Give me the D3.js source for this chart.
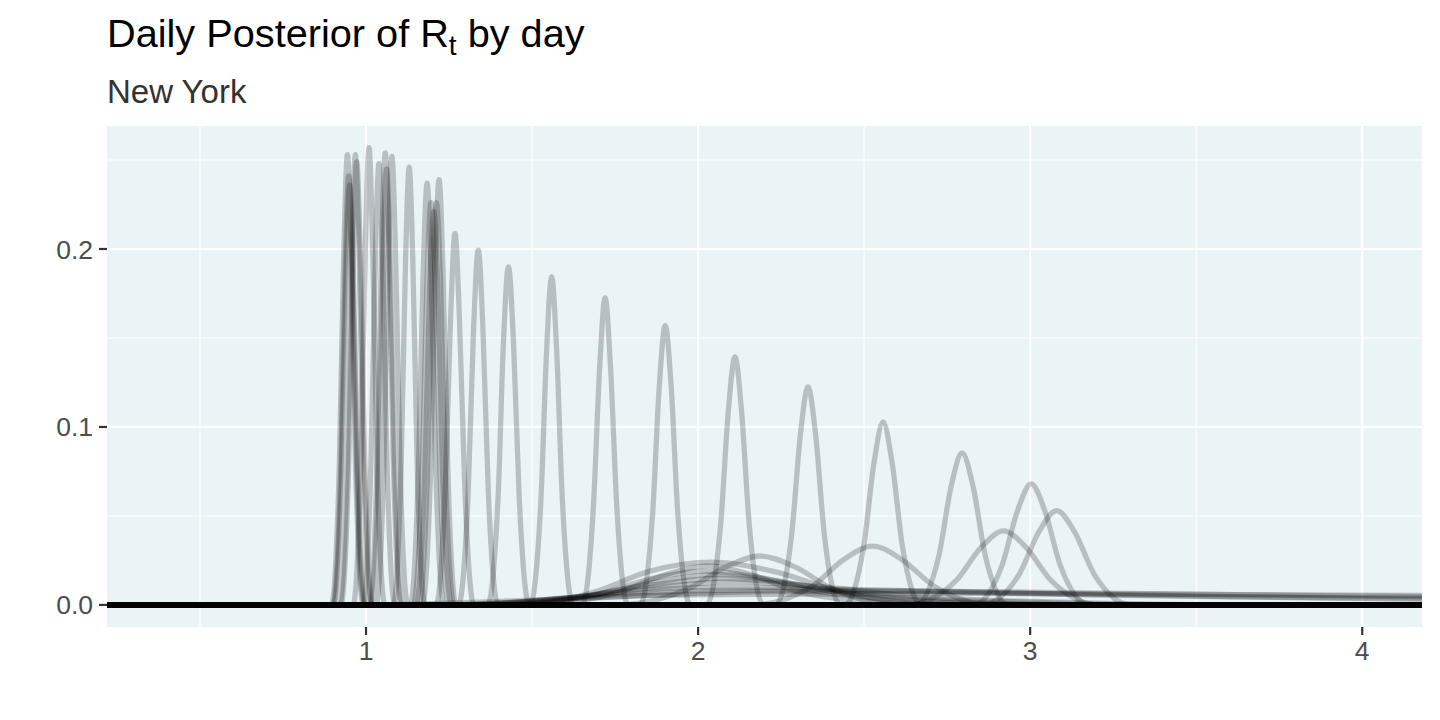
<!DOCTYPE html>
<html>
<head>
<meta charset="utf-8">
<script src="https://cdn.jsdelivr.net/npm/d3@7"></script>
<style>
  html, body { margin: 0; padding: 0; background: #ffffff; }
  svg { display: block; font-family: "Liberation Sans", Arial, sans-serif; }
</style>
</head>
<body>
<svg id="chart" width="1440" height="720"></svg>
<script>
// ---------------- DATA ----------------
const titleMain = "Daily Posterior of R";
const titleSub = "t";
const titleTail = " by day";
const subtitle = "New York";

const xTicks = [1, 2, 3, 4];
const xMinor = [0.5, 1.5, 2.5, 3.5];
const yTicks = [0.0, 0.1, 0.2];
const yMinor = [0.05, 0.15, 0.25];
const yTickLabels = ["0.0", "0.1", "0.2"];
const xTickLabels = ["1", "2", "3", "4"];

// R range of the posterior grid (extends past the visible window)
const rLimits = [0.0, 4.5];

// Narrow posteriors clustered near R = 1 : [R, density] knots
const clusterCurves = [
  [[0.896,0],[0.920,0.082],[0.933,0.198],[0.944,0.253],[0.955,0.198],[0.968,0.082],[0.992,0]],
  [[0.900,0],[0.924,0.078],[0.937,0.189],[0.948,0.241],[0.959,0.189],[0.972,0.078],[0.996,0]],
  [[0.903,0],[0.927,0.077],[0.940,0.185],[0.951,0.236],[0.962,0.185],[0.975,0.077],[0.999,0]],
  [[0.920,0],[0.944,0.082],[0.957,0.198],[0.968,0.253],[0.979,0.198],[0.992,0.082],[1.016,0]],
  [[0.924,0],[0.948,0.081],[0.961,0.195],[0.972,0.249],[0.983,0.195],[0.996,0.081],[1.020,0]],
  [[0.961,0],[0.985,0.084],[0.998,0.201],[1.009,0.257],[1.020,0.201],[1.033,0.084],[1.057,0]],
  [[0.991,0],[1.015,0.081],[1.028,0.194],[1.039,0.248],[1.050,0.194],[1.063,0.081],[1.087,0]],
  [[1.010,0],[1.034,0.083],[1.047,0.199],[1.058,0.254],[1.069,0.199],[1.082,0.083],[1.106,0]],
  [[1.014,0],[1.038,0.080],[1.051,0.192],[1.062,0.245],[1.073,0.192],[1.086,0.080],[1.110,0]],
  [[1.030,0],[1.054,0.082],[1.067,0.197],[1.078,0.252],[1.089,0.197],[1.102,0.082],[1.126,0]],
  [[1.082,0],[1.106,0.080],[1.119,0.193],[1.130,0.246],[1.141,0.193],[1.154,0.080],[1.178,0]],
  [[1.133,0],[1.158,0.077],[1.172,0.186],[1.184,0.237],[1.196,0.186],[1.210,0.077],[1.235,0]],
  [[1.142,0],[1.169,0.074],[1.183,0.177],[1.196,0.226],[1.209,0.177],[1.223,0.074],[1.250,0]],
  [[1.150,0],[1.177,0.072],[1.191,0.173],[1.204,0.221],[1.217,0.173],[1.231,0.072],[1.258,0]],
  [[1.158,0],[1.185,0.074],[1.199,0.177],[1.212,0.226],[1.225,0.177],[1.239,0.074],[1.266,0]],
  [[1.169,0],[1.195,0.078],[1.208,0.187],[1.220,0.239],[1.232,0.187],[1.246,0.078],[1.271,0]]
];

// Single posteriors stepping from R ~ 3.1 down to R ~ 1.27
const stepCurves = [
  [[2.854,0],[2.967,0.0172],[3.027,0.0413],[3.080,0.053],[3.133,0.0413],[3.193,0.0172],[3.306,0]],
  [[2.827,0],[2.915,0.0221],[2.962,0.053],[3.003,0.068],[3.044,0.053],[3.091,0.0221],[3.179,0]],
  [[2.655,0],[2.725,0.0276],[2.762,0.0666],[2.795,0.0854],[2.828,0.0666],[2.865,0.0276],[2.935,0]],
  [[2.441,0],[2.499,0.0334],[2.530,0.0802],[2.557,0.1028],[2.584,0.0802],[2.615,0.0334],[2.673,0]],
  [[2.233,0],[2.282,0.0398],[2.308,0.0955],[2.331,0.1225],[2.354,0.0955],[2.380,0.0398],[2.429,0]],
  [[2.025,0],[2.068,0.0453],[2.091,0.1087],[2.111,0.1393],[2.131,0.1087],[2.154,0.0453],[2.197,0]],
  [[1.825,0],[1.863,0.051],[1.883,0.1225],[1.901,0.157],[1.919,0.1225],[1.939,0.051],[1.977,0]],
  [[1.651,0],[1.685,0.0561],[1.704,0.1347],[1.720,0.1727],[1.736,0.1347],[1.755,0.0561],[1.789,0]],
  [[1.494,0],[1.527,0.060],[1.544,0.1438],[1.559,0.1844],[1.574,0.1438],[1.591,0.060],[1.624,0]],
  [[1.366,0],[1.398,0.0618],[1.414,0.1482],[1.429,0.190],[1.444,0.1482],[1.461,0.0618],[1.492,0]],
  [[1.278,0],[1.308,0.0648],[1.324,0.1555],[1.338,0.1994],[1.352,0.1555],[1.368,0.0648],[1.398,0]],
  [[1.211,0],[1.239,0.0679],[1.255,0.1629],[1.268,0.2088],[1.281,0.1629],[1.297,0.0679],[1.325,0]]
];

// Broad early posteriors
const broadCurves = [
  [[2.630,0],[2.776,0.0135],[2.853,0.0325],[2.920,0.0416],[2.987,0.0325],[3.064,0.0135],[3.210,0]],
  [[2.160,0],[2.345,0.0107],[2.440,0.0257],[2.527,0.033],[2.612,0.0257],[2.710,0.0107],[2.890,0]],
  [[1.750,0],[1.970,0.009],[2.085,0.0215],[2.187,0.0275],[2.290,0.0215],[2.405,0.009],[2.620,0]],
  [[1.450,0],[1.700,0.008],[1.850,0.0187],[2.040,0.024],[2.230,0.0187],[2.420,0.008],[2.750,0]],
  [[1.500,0],[1.760,0.007],[1.900,0.017],[2.030,0.022],[2.160,0.017],[2.300,0.0075],[2.600,0.001],[2.900,0]],
  [[1.400,0],[1.700,0.006],[1.860,0.0148],[2.020,0.019],[2.200,0.015],[2.380,0.007],[2.800,0.001],[3.200,0]],
  [[1.350,0],[1.680,0.0055],[1.880,0.013],[2.050,0.017],[2.240,0.0135],[2.450,0.006],[2.900,0.001],[3.300,0]],
  [[1.300,0],[1.650,0.005],[1.880,0.0117],[2.070,0.015],[2.280,0.012],[2.550,0.005],[3.000,0.0015],[3.500,0]],
  [[1.250,0],[1.620,0.0042],[1.880,0.010],[2.100,0.013],[2.350,0.0105],[2.650,0.0048],[3.100,0.0015],[3.600,0]]
];

// Very flat, long-tailed first-day posteriors
const flatCurves = [
  [[1.300,0],[1.600,0.004],[1.900,0.009],[2.100,0.010],[2.400,0.009],[2.900,0.007],[3.500,0.005],[4.000,0.0035],[4.500,0.0025]],
  [[1.200,0],[1.500,0.002],[1.800,0.005],[2.200,0.0075],[2.600,0.0078],[3.000,0.0072],[3.500,0.006],[4.000,0.005],[4.500,0.0042]],
  [[1.000,0],[1.400,0.002],[1.800,0.005],[2.200,0.006],[2.800,0.0065],[3.400,0.006],[4.000,0.0055],[4.500,0.005]],
  [[1.400,0],[1.700,0.005],[2.000,0.008],[2.300,0.0085],[2.700,0.0075],[3.200,0.0055],[3.600,0.0045],[4.000,0.004],[4.500,0.0035]]
];

// ---------------- CHART ----------------
const svg = d3.select("#chart");
const panel = { left: 107, right: 1422, top: 126, bottom: 627 };

const x = d3.scaleLinear().domain([0.22, 4.18]).range([panel.left, panel.right]);
const y = d3.scaleLinear().domain([-0.0124, 0.2691]).range([panel.bottom, panel.top]);

svg.append("defs").append("clipPath").attr("id", "clip")
  .append("rect")
  .attr("x", panel.left).attr("y", panel.top)
  .attr("width", panel.right - panel.left)
  .attr("height", panel.bottom - panel.top);

// panel background
svg.append("rect")
  .attr("x", panel.left).attr("y", panel.top)
  .attr("width", panel.right - panel.left)
  .attr("height", panel.bottom - panel.top)
  .attr("fill", "#EAF3F6");

// grid
const grid = svg.append("g");
grid.selectAll(".xminor").data(xMinor).join("line")
  .attr("x1", d => x(d)).attr("x2", d => x(d))
  .attr("y1", panel.top).attr("y2", panel.bottom)
  .attr("stroke", "#fff").attr("stroke-width", 1.1);
grid.selectAll(".yminor").data(yMinor).join("line")
  .attr("y1", d => y(d)).attr("y2", d => y(d))
  .attr("x1", panel.left).attr("x2", panel.right)
  .attr("stroke", "#fff").attr("stroke-width", 1.1);
grid.selectAll(".xmajor").data(xTicks).join("line")
  .attr("x1", d => x(d)).attr("x2", d => x(d))
  .attr("y1", panel.top).attr("y2", panel.bottom)
  .attr("stroke", "#fff").attr("stroke-width", 2.2);
grid.selectAll(".ymajor").data(yTicks).join("line")
  .attr("y1", d => y(d)).attr("y2", d => y(d))
  .attr("x1", panel.left).attr("x2", panel.right)
  .attr("stroke", "#fff").attr("stroke-width", 2.2);

// curves
const allCurves = [].concat(flatCurves, broadCurves, stepCurves, clusterCurves).map(c => {
  const pts = c.slice();
  if (pts[0][0] > rLimits[0]) pts.unshift([rLimits[0], 0]);
  if (pts[pts.length - 1][0] < rLimits[1]) pts.push([rLimits[1], 0]);
  return pts;
});

const line = d3.line()
  .x(d => x(d[0]))
  .y(d => y(d[1]))
  .curve(d3.curveMonotoneX);

svg.append("g")
  .attr("clip-path", "url(#clip)")
  .selectAll("path")
  .data(allCurves)
  .join("path")
  .attr("d", line)
  .attr("fill", "none")
  .attr("stroke", "#000")
  .attr("stroke-opacity", 0.21)
  .attr("stroke-width", 5.3)
  .attr("stroke-linejoin", "round")
  .attr("stroke-linecap", "butt");

// axes (ticks + labels)
const axisCol = "#333333";
const labCol = "#4D4D4D";
const tickLen = 8;

svg.append("g").selectAll("line").data(yTicks).join("line")
  .attr("x1", panel.left - tickLen).attr("x2", panel.left)
  .attr("y1", d => y(d)).attr("y2", d => y(d))
  .attr("stroke", axisCol).attr("stroke-width", 2.2);
svg.append("g").selectAll("text").data(yTicks).join("text")
  .attr("x", panel.left - tickLen - 6)
  .attr("y", d => y(d))
  .attr("dy", "0.36em")
  .attr("text-anchor", "end")
  .attr("font-size", 26.5)
  .attr("fill", labCol)
  .text((d, i) => yTickLabels[i]);

svg.append("g").selectAll("line").data(xTicks).join("line")
  .attr("x1", d => x(d)).attr("x2", d => x(d))
  .attr("y1", panel.bottom).attr("y2", panel.bottom + tickLen)
  .attr("stroke", axisCol).attr("stroke-width", 2.2);
svg.append("g").selectAll("text").data(xTicks).join("text")
  .attr("x", d => x(d))
  .attr("y", panel.bottom + tickLen + 25)
  .attr("text-anchor", "middle")
  .attr("font-size", 26.5)
  .attr("fill", labCol)
  .text((d, i) => xTickLabels[i]);

// titles
const t = svg.append("text")
  .attr("x", 107).attr("y", 47)
  .attr("font-size", 39.7)
  .attr("fill", "#000");
t.append("tspan").text(titleMain);
t.append("tspan").attr("font-size", 28).attr("dy", 8).text(titleSub);
t.append("tspan").attr("dy", -8).text(titleTail);

svg.append("text")
  .attr("x", 107).attr("y", 103)
  .attr("font-size", 33)
  .attr("fill", "#333333")
  .text(subtitle);
</script>
</body>
</html>
